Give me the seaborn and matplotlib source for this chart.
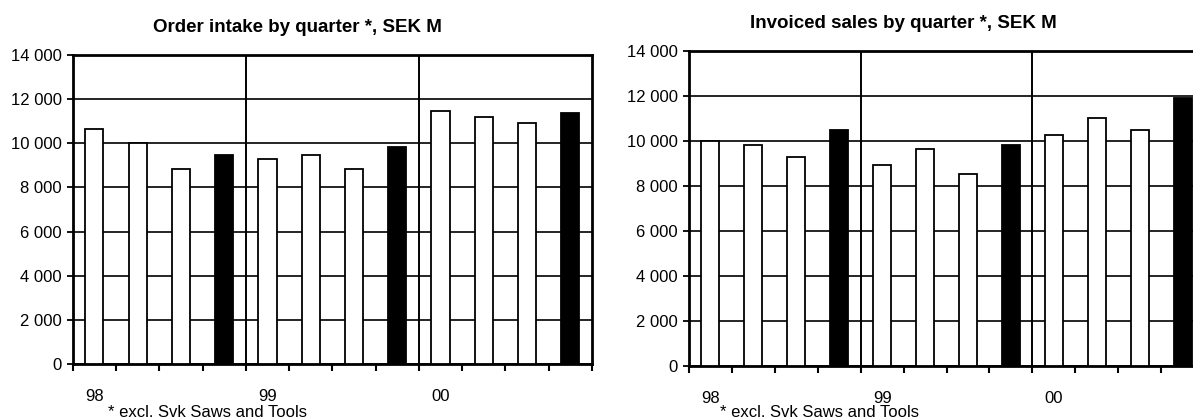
import matplotlib
matplotlib.use("Agg")
import matplotlib.pyplot as plt
import seaborn as sns
import pandas as pd
import numpy as np

plt.rcParams['font.family'] = ['Liberation Sans', 'DejaVu Sans']

# data (SEK M per quarter, 1998-2000)
quarters = ['98 Q1', '98 Q2', '98 Q3', '98 Q4',
            '99 Q1', '99 Q2', '99 Q3', '99 Q4',
            '00 Q1', '00 Q2', '00 Q3', '00 Q4']
year_labels = ['98', '99', '00']
order_intake = [10650, 10000, 8830, 9470, 9280, 9460, 8830, 9850, 11460, 11190, 10920, 11370]
invoiced_sales = [10000, 9820, 9290, 10470, 8930, 9640, 8540, 9830, 10270, 11000, 10470, 11930]
footnote = '* excl. Svk Saws and Tools'

W, H = 1193, 418
fig = plt.figure(figsize=(W / 100, H / 100), dpi=100)
fig.patch.set_facecolor('white')


def draw(ax, values):
    df = pd.DataFrame({'quarter': quarters, 'value': values})
    colors = ['black' if q.endswith('Q4') else 'white' for q in quarters]
    sns.barplot(data=df, x='quarter', y='value', hue='quarter', palette=colors,
                legend=False, width=0.42, saturation=1, edgecolor='black',
                linewidth=1.3, ax=ax, zorder=3)
    ax.set_xlim(-0.5, len(quarters) - 0.5)
    ax.set_ylim(0, 14000)
    ax.set_xlabel('')
    ax.set_ylabel('')

    # horizontal grid + year separators
    yt = np.arange(0, 14001, 2000)
    ax.set_yticks(yt)
    ax.set_yticklabels([f'{v:,}'.replace(',', ' ') for v in yt], fontsize=12)
    ax.yaxis.grid(True, color='black', linewidth=1.2, zorder=0)
    ax.set_axisbelow(True)
    for b in (3.5, 7.5):
        ax.axvline(b, color='black', linewidth=1.4, zorder=1)

    # ticks at quarter boundaries, year labels under first quarter
    ax.set_xticks(np.arange(-0.5, len(quarters), 1))
    ax.set_xticklabels([])
    ax.set_xticks([0, 4, 8], minor=True)
    ax.set_xticklabels(year_labels, minor=True, fontsize=12)
    ax.tick_params(axis='x', which='major', length=5, width=1.5, direction='out')
    ax.tick_params(axis='x', which='minor', length=0, pad=18)
    ax.tick_params(axis='y', length=4, width=1.3, pad=4)

    for s in ax.spines.values():
        s.set_linewidth(2)
        s.set_color('black')


ax1 = fig.add_axes([72.7 / W, 1 - 364 / H, (592 - 72.7) / W, (364 - 55) / H])
draw(ax1, order_intake)
ax2 = fig.add_axes([689 / W, 1 - 366 / H, (1204 - 689) / W, (366 - 51) / H])
draw(ax2, invoiced_sales)

fig.text(297 / W, 1 - 27 / H, 'Order intake by quarter *, SEK M',
         ha='center', va='center', fontsize=13.5, fontweight='bold')
fig.text(903 / W, 1 - 23 / H, 'Invoiced sales by quarter *, SEK M',
         ha='center', va='center', fontsize=13.5, fontweight='bold')

fig.text(108 / W, 1 / H, footnote, ha='left', va='baseline', fontsize=12)
fig.text(720 / W, 1 / H, footnote, ha='left', va='baseline', fontsize=12)

fig.savefig('out.png', dpi=100)
